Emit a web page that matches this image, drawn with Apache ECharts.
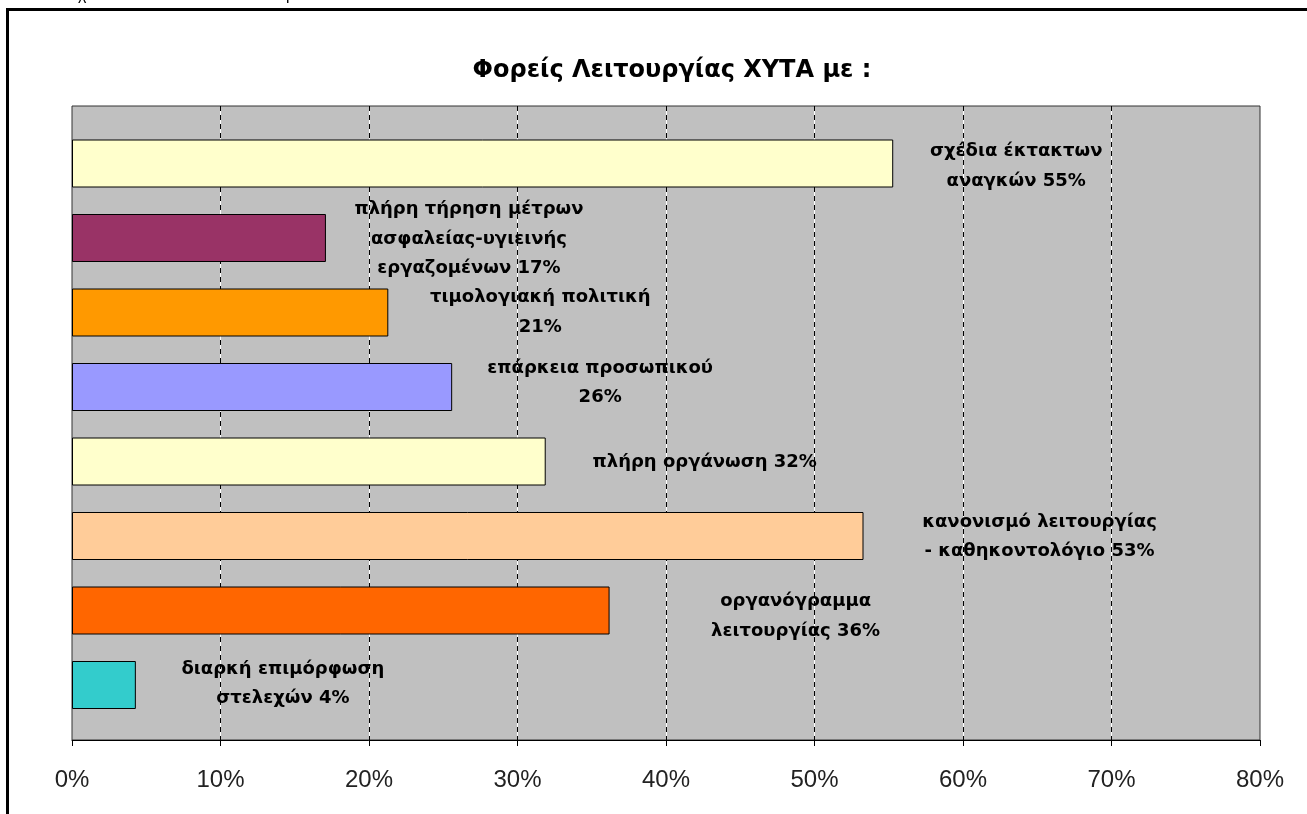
<!DOCTYPE html>
<html>
<head>
<meta charset="utf-8">
<script src="https://cdn.jsdelivr.net/npm/echarts@6/dist/echarts.min.js"></script>
<style>
html,body{margin:0;padding:0;background:#fff;}
#chart{width:1307px;height:814px;}
</style>
</head>
<body>
<div id="chart"></div>
<script>
const titleText = 'Φορείς Λειτουργίας ΧΥΤΑ με :';
const categories = [
  'σχέδια έκτακτων\nαναγκών',
  'πλήρη τήρηση μέτρων\nασφαλείας-υγιεινής\nεργαζομένων',
  'τιμολογιακή πολιτική',
  'επάρκεια προσωπικού',
  'πλήρη οργάνωση',
  'κανονισμό λειτουργίας\n- καθηκοντολόγιο',
  'οργανόγραμμα\nλειτουργίας',
  'διαρκή επιμόρφωση\nστελεχών'
];
const values = [55.3, 17.1, 21.3, 25.6, 31.9, 53.3, 36.2, 4.3];
const labelJoin = [' ', ' ', '\n', '\n', ' ', ' ', ' ', ' '];
const barColors = ['#FFFFCC', '#993366', '#FF9900', '#9999FF', '#FFFFCC', '#FFCC99', '#FF6600', '#33CCCC'];
const labelNudge = [[123, 3], [143, 1], [152, 0], [148, -4], [159, 1], [176, 1], [186, 6], [147, -1]];
const xTicks = [0, 10, 20, 30, 40, 50, 60, 70, 80];

const chart = echarts.init(document.getElementById('chart'));
const labelFont = '"DejaVu Sans", Verdana, sans-serif';
const tickFont = '"Liberation Sans", Arial, sans-serif';

const option = {
  backgroundColor: '#ffffff',
  animation: false,
  title: {
    text: titleText,
    left: 667, top: 54, textAlign: 'center',
    textStyle: { fontFamily: labelFont, fontWeight: 'bold', fontSize: 24, color: '#000' }
  },
  graphic: [
    { type: 'rect', shape: { x: 7.5, y: 9.5, width: 1400, height: 900 }, style: { fill: 'none', stroke: '#000', lineWidth: 3 }, z: 100 },
    { type: 'text', x: 78, y: -12, style: { text: 'χ', font: '16px Liberation Sans', fill: '#000' } },
    { type: 'text', x: 286, y: -12, style: { text: 'ρ', font: '16px Liberation Sans', fill: '#000' } }
  ],
  grid: [
    { left: 72, right: 47, top: 106, bottom: 74, show: true, backgroundColor: '#C0C0C0', borderColor: '#333333', borderWidth: 1 },
    { left: 72, right: 47, top: 126.25, bottom: 91.75 }
  ],
  xAxis: [
    {
      gridIndex: 0, type: 'value', min: xTicks[0], max: xTicks[xTicks.length - 1], interval: 10, position: 'bottom',
      axisLine: { show: true, lineStyle: { color: '#000', width: 1 } },
      axisTick: { show: true, length: 6, lineStyle: { color: '#000' } },
      axisLabel: { formatter: '{value}%', fontFamily: tickFont, fontSize: 24, color: '#222', margin: 28 },
      splitLine: { show: true, showMinLine: false, showMaxLine: false, lineStyle: { color: '#ffffff', width: 1, type: 'solid' } }
    },
    {
      gridIndex: 0, type: 'value', min: xTicks[0], max: xTicks[xTicks.length - 1], interval: 10, position: 'top', z: 3,
      axisLine: { show: false }, axisTick: { show: false }, axisLabel: { show: false },
      splitLine: { show: true, showMinLine: false, showMaxLine: false, lineStyle: { color: '#000', width: 1, type: [5, 4] } }
    },
    { gridIndex: 1, type: 'value', min: xTicks[0], max: xTicks[xTicks.length - 1], show: false }
  ],
  yAxis: [
    { gridIndex: 0, type: 'value', show: false },
    { gridIndex: 1, type: 'category', data: categories, inverse: true, show: false }
  ],
  series: [{
    type: 'bar',
    xAxisIndex: 2, yAxisIndex: 1,
    barWidth: 48,
    z: 5,
    data: values.map((v, i) => ({
      value: v,
      itemStyle: { color: barColors[i], borderColor: '#000', borderWidth: 1 },
      label: {
        show: true,
        position: ['100%', '50%'],
        offset: labelNudge[i],
        align: 'center', verticalAlign: 'middle',
        fontFamily: labelFont, fontWeight: 'bold', fontSize: 18, lineHeight: 29.5, color: '#000',
        formatter: categories[i] + labelJoin[i] + Math.round(v) + '%'
      }
    }))
  }]
};
chart.setOption(option);
</script>
</body>
</html>
